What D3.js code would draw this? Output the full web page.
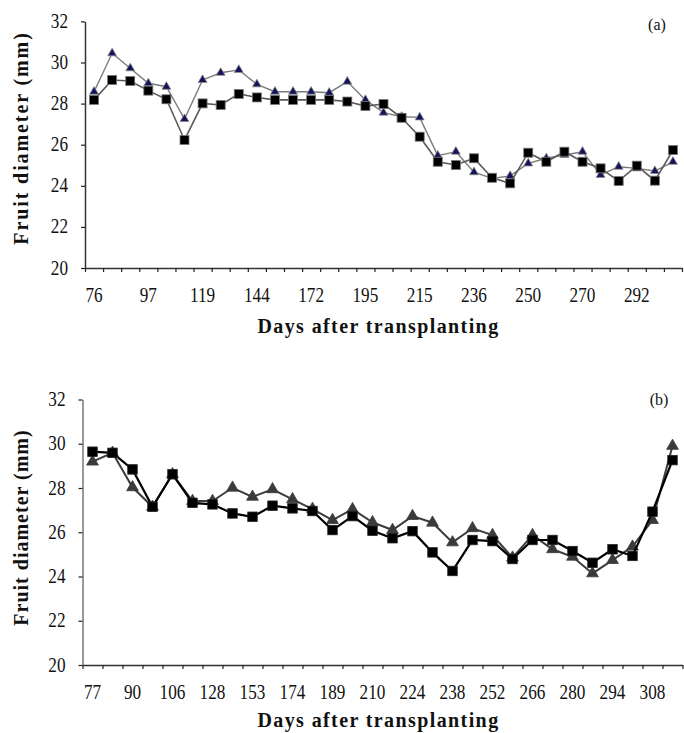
<!DOCTYPE html>
<html>
<head>
<meta charset="utf-8">
<script src="https://cdn.jsdelivr.net/npm/d3@7/dist/d3.min.js"></script>
<style>
  html, body { margin: 0; padding: 0; background: #fff; }
  svg { display: block; }
</style>
</head>
<body>
<svg id="chart" width="684" height="733"></svg>
<script>
// Panel (a): fruit diameter (mm) at each sampling date
const squaresA = [28.18, 29.15, 29.10, 28.63, 28.21, 26.23, 28.01, 27.93, 28.47, 28.30,
  28.18, 28.18, 28.18, 28.18, 28.10, 27.88, 27.98, 27.31, 26.39, 25.17,
  25.01, 25.34, 24.39, 24.12, 25.61, 25.17, 25.66, 25.17, 24.85, 24.23,
  24.98, 24.25, 25.74];
const trianglesA = [28.58, 30.45, 29.72, 28.99, 28.82, 27.25, 29.15, 29.50, 29.64, 28.94,
  28.58, 28.58, 28.58, 28.53, 29.07, 28.18, 27.56, 27.36, 27.33, 25.47,
  25.66, 24.66, 24.36, 24.48, 25.09, 25.34, 25.50, 25.66, 24.53, 24.93,
  24.85, 24.72, 25.17];
const dayLabelsA = [76, 97, 119, 144, 172, 195, 215, 236, 250, 270, 292];

// Panel (b)
const squaresB = [29.64, 29.59, 28.84, 27.15, 28.62, 27.33, 27.26, 26.85, 26.70, 27.20,
  27.08, 26.96, 26.10, 26.73, 26.07, 25.73, 26.05, 25.09, 24.25, 25.65,
  25.60, 24.79, 25.65, 25.65, 25.15, 24.62, 25.23, 24.93, 26.93, 29.26];
const trianglesB = [29.19, 29.59, 28.03, 27.15, 28.62, 27.41, 27.41, 28.01, 27.60, 27.94,
  27.49, 27.05, 26.55, 27.04, 26.45, 26.10, 26.73, 26.43, 25.54, 26.18,
  25.87, 24.85, 25.87, 25.23, 24.89, 24.14, 24.74, 25.35, 26.55, 29.90];
const dayLabelsB = [77, 90, 106, 128, 153, 174, 189, 210, 224, 238, 252, 266, 280, 294, 308];

const yTicks = [20, 22, 24, 26, 28, 30, 32];
const xTitle = "Days after transplanting";
const yTitle = "Fruit diameter (mm)";

const svg = d3.select("#chart");
const SERIF = "'Liberation Serif', 'Times New Roman', serif";

function panel(cfg) {
  const g = svg.append("g");
  const n = cfg.squares.length;
  const x = d3.scaleLinear().domain([0, n]).range([cfg.left, cfg.right]);
  const y = d3.scaleLinear().domain([20, 32]).range([cfg.bottom, cfg.top]);
  const cx = i => x(i + 0.5);

  // y axis
  const yAxis = g.append("g")
    .attr("transform", `translate(${cfg.left},0)`)
    .call(d3.axisLeft(y).tickValues(yTicks).tickSize(4).tickSizeOuter(0).tickFormat(""));
  yAxis.select(".domain").attr("stroke", cfg.axisColor).attr("stroke-width", 1.5);
  yAxis.selectAll(".tick line").attr("stroke", "#222").attr("stroke-width", 1.2);

  // x axis: tick marks on category boundaries
  const xAxis = g.append("g")
    .attr("transform", `translate(0,${cfg.bottom})`)
    .call(d3.axisBottom(x).tickValues(d3.range(n + 1)).tickSize(4).tickSizeOuter(0).tickFormat(""));
  xAxis.select(".domain").attr("stroke", "#333").attr("stroke-width", 1.5);
  xAxis.selectAll(".tick line").attr("stroke", "#222").attr("stroke-width", 1.2);

  // y tick labels
  g.selectAll(".ylab").data(yTicks).enter().append("text")
    .attr("transform", d => `translate(${cfg.left - 17},${y(d) + 6.5}) scale(0.86,1)`)
    .attr("text-anchor", "end")
    .attr("font-family", SERIF).attr("font-size", 20).attr("fill", "#111")
    .text(d => d);

  // x tick labels, one every `step` categories
  g.selectAll(".xlab").data(cfg.labels).enter().append("text")
    .attr("transform", (d, k) => `translate(${cx(k * cfg.step)},${cfg.bottom + 34}) scale(0.86,1)`)
    .attr("text-anchor", "middle")
    .attr("font-family", SERIF).attr("font-size", 20).attr("fill", "#111")
    .text(d => d);

  // axis titles
  g.append("text")
    .attr("x", 378.5).attr("y", cfg.xTitleY)
    .attr("text-anchor", "middle")
    .attr("font-family", SERIF).attr("font-weight", "bold").attr("font-size", 20)
    .attr("letter-spacing", 1.4).attr("fill", "#111")
    .text(xTitle);
  g.append("text")
    .attr("transform", `translate(28,${cfg.yTitleY}) rotate(-90)`)
    .attr("text-anchor", "middle")
    .attr("font-family", SERIF).attr("font-weight", "bold").attr("font-size", 20)
    .attr("letter-spacing", cfg.yTitleSpacing).attr("fill", "#111")
    .text(yTitle);

  // panel tag
  g.append("text")
    .attr("x", cfg.tagX).attr("y", cfg.tagY)
    .attr("text-anchor", "middle")
    .attr("font-family", SERIF).attr("font-size", 16).attr("fill", "#111")
    .text(cfg.tag);

  const line = d3.line().x((d, i) => cx(i)).y(d => y(d));

  // triangle series
  g.append("path").datum(cfg.triangles)
    .attr("d", line).attr("fill", "none")
    .attr("stroke", cfg.triLine).attr("stroke-width", cfg.triLineW);
  const tri = d3.symbol().type(d3.symbolTriangle).size(cfg.triSize);
  g.selectAll(".tri").data(cfg.triangles).enter().append("path")
    .attr("d", tri)
    .attr("transform", (d, i) => `translate(${cx(i)},${y(d)})`)
    .attr("fill", cfg.triFill).attr("stroke", cfg.triStroke).attr("stroke-width", 0.8);

  // square series
  g.append("path").datum(cfg.squares)
    .attr("d", line).attr("fill", "none")
    .attr("stroke", cfg.sqLine).attr("stroke-width", cfg.sqLineW);
  const s = cfg.sqSize;
  g.selectAll(".sq").data(cfg.squares).enter().append("rect")
    .attr("x", (d, i) => cx(i) - s / 2).attr("y", d => y(d) - s / 2)
    .attr("width", s).attr("height", s)
    .attr("fill", "#000").attr("stroke", cfg.sqStroke).attr("stroke-width", 0.8);
}

panel({
  squares: squaresA, triangles: trianglesA, labels: dayLabelsA, step: 3,
  left: 85, right: 682, top: 21.4, bottom: 268,
  axisColor: "#333",
  xTitleY: 332.7, yTitleY: 138, yTitleSpacing: 1.9,
  tag: "(a)", tagX: 657, tagY: 30,
  triLine: "#7a7a7a", triLineW: 1.4, triFill: "#14145a", triStroke: "#8a8a8a", triSize: 34,
  sqLine: "#5a5a5a", sqLineW: 1.6, sqStroke: "#777", sqSize: 9
});

panel({
  squares: squaresB, triangles: trianglesB, labels: dayLabelsB, step: 2,
  left: 82.5, right: 682.5, top: 399.5, bottom: 665,
  axisColor: "#777",
  xTitleY: 727, yTitleY: 527.5, yTitleSpacing: 1.0,
  tag: "(b)", tagX: 659, tagY: 405,
  triLine: "#3c3c3c", triLineW: 2, triFill: "#3a3a3a", triStroke: "#3a3a3a", triSize: 60,
  sqLine: "#000", sqLineW: 2.2, sqStroke: "#222", sqSize: 9.5
});
</script>
</body>
</html>
